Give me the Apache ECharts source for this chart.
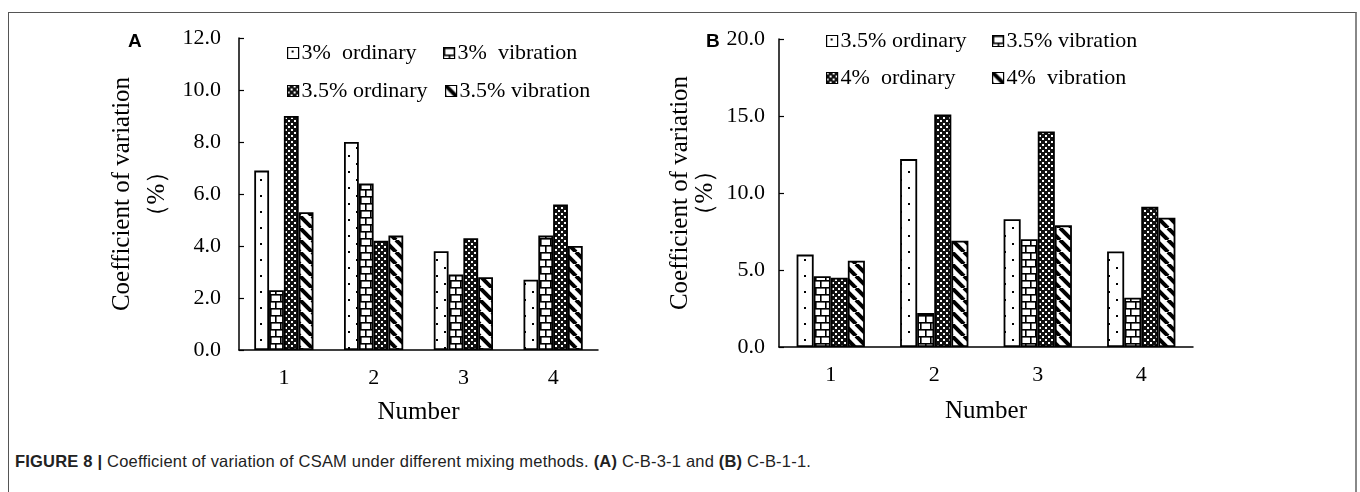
<!DOCTYPE html>
<html>
<head>
<meta charset="utf-8">
<script src="https://cdn.jsdelivr.net/npm/echarts@6/dist/echarts.min.js"></script>
<style>
  body { margin: 0; background: #fff; }
  #page { position: relative; width: 1360px; height: 492px; overflow: hidden; }
  #frame { position: absolute; left: 8px; top: 12px; width: 1346px; height: 520px;
           border-top: 1px solid #555; border-left: 1px solid #555; border-right: 2px solid #888; }
  #chart-a { position: absolute; left: 0; top: 0; width: 640px; height: 440px; }
  #chart-b { position: absolute; left: 640px; top: 0; width: 720px; height: 440px; }
  #caption { position: absolute; left: 15px; top: 452px; font-family: 'Liberation Sans', Arial, sans-serif;
             font-size: 16.5px; letter-spacing: 0.2px; color: #222; white-space: nowrap; }
</style>
</head>
<body>
<div id="page">
  <div id="frame"></div>
  <div id="chart-a"></div>
  <div id="chart-b"></div>
  <div id="caption"><b>FIGURE 8 |</b> Coefficient of variation of CSAM under different mixing methods. <b>(A)</b> C-B-3-1 and <b>(B)</b> C-B-1-1.</div>
</div>
<script>
// Data
const categories = ['1', '2', '3', '4'];

const namesA = ['3%  ordinary', '3%  vibration', '3.5% ordinary', '3.5% vibration'];
const ordinary3A = [6.9, 8.0, 3.8, 2.7];
const vibration3A = [2.3, 6.4, 2.9, 4.4];
const ordinary35A = [9.0, 4.2, 4.3, 5.6];
const vibration35A = [5.3, 4.4, 2.8, 4.0];

const namesB = ['3.5% ordinary', '3.5% vibration', '4%  ordinary', '4%  vibration'];
const ordinary35B = [6.0, 12.2, 8.3, 6.2];
const vibration35B = [4.6, 2.2, 7.0, 3.2];
const ordinary4B = [4.5, 15.1, 14.0, 9.1];
const vibration4B = [5.6, 6.9, 7.9, 8.4];

const SERIF = "'Liberation Serif', 'Times New Roman', serif";

// Fill patterns drawn on small canvases
function tile(w, h, draw) {
  const c = document.createElement('canvas');
  c.width = w; c.height = h;
  const ctx = c.getContext('2d');
  ctx.fillStyle = '#fff';
  ctx.fillRect(0, 0, w, h);
  draw(ctx);
  return { image: c, repeat: 'repeat' };
}

const dotted = () => tile(16, 16, ctx => {
  ctx.fillStyle = '#000';
  ctx.fillRect(4, 3, 2, 2);
  ctx.fillRect(12, 11, 2, 2);
});

const brick = () => tile(20, 14, ctx => {
  ctx.fillStyle = '#000';
  ctx.fillRect(0, 0, 20, 1.6);
  ctx.fillRect(0, 7, 20, 1.6);
  ctx.fillRect(0, 0, 1.6, 7);
  ctx.fillRect(10, 0, 1.6, 7);
  ctx.fillRect(5, 7, 1.6, 7);
  ctx.fillRect(15, 7, 1.6, 7);
});

const checker = () => tile(6, 6, ctx => {
  ctx.fillStyle = '#111';
  ctx.fillRect(0, 0, 6, 6);
  ctx.fillStyle = '#fff';
  ctx.fillRect(0, 0, 2, 2);
  ctx.fillRect(3, 3, 2, 2);
});

const stripes = () => tile(12, 12, ctx => {
  ctx.strokeStyle = '#000';
  ctx.lineWidth = 4;
  [-12, 0, 12].forEach(k => {
    ctx.beginPath();
    ctx.moveTo(k, 0);
    ctx.lineTo(k + 12, 12);
    ctx.stroke();
  });
});

function barSeries(name, data, fill) {
  return {
    name: name,
    type: 'bar',
    data: data,
    barGap: '0%',
    barCategoryGap: '34%',
    itemStyle: { color: fill, borderColor: '#000', borderWidth: 1.8 }
  };
}

function legendAt(name, left, top) {
  return {
    data: [name],
    left: left,
    top: top,
    padding: 0,
    icon: 'rect',
    itemWidth: 11,
    itemHeight: 11,
    itemGap: 4,
    selectedMode: false,
    itemStyle: { borderColor: '#000', borderWidth: 1.2 },
    textStyle: { fontFamily: SERIF, fontSize: 22, color: '#000', padding: [0, 0, 0, -2] }
  };
}

function buildOption(cfg) {
  return {
    animation: false,
    title: {
      text: cfg.letter,
      left: cfg.letterLeft,
      top: 32,
      padding: 0,
      textStyle: { fontFamily: "'Liberation Sans', Arial, sans-serif", fontWeight: 'bold', fontSize: 19, color: '#000' }
    },
    legend: cfg.legends,
    grid: Object.assign({ outerBoundsMode: 'none', containLabel: false }, cfg.grid),
    xAxis: {
      type: 'category',
      data: categories,
      name: 'Number',
      nameLocation: 'middle',
      nameGap: cfg.xNameGap,
      nameMoveOverlap: false,
      nameTextStyle: { fontFamily: SERIF, fontSize: 25, color: '#000' },
      axisLine: { lineStyle: { color: '#000', width: 1.5 } },
      axisTick: { inside: true, length: 6, lineStyle: { color: '#000', width: 1.2 } },
      axisLabel: { fontFamily: SERIF, fontSize: 22, color: '#000', margin: 17 }
    },
    yAxis: {
      type: 'value',
      min: 0,
      max: cfg.yMax,
      interval: cfg.yStep,
      name: 'Coefficient of variation\n（%）',
      nameLocation: 'middle',
      nameGap: cfg.yNameGap,
      nameMoveOverlap: false,
      nameTextStyle: { fontFamily: SERIF, fontSize: 25, color: '#000', lineHeight: cfg.yNameLine },
      axisLine: { show: true, lineStyle: { color: '#000', width: 1.5 } },
      axisTick: { show: true, inside: true, length: 5, lineStyle: { color: '#000', width: 1.2 } },
      axisLabel: { fontFamily: SERIF, fontSize: 22, color: '#000', margin: cfg.yLabelMargin, formatter: v => v.toFixed(1) },
      splitLine: { show: false }
    },
    series: cfg.series
  };
}

document.addEventListener('DOMContentLoaded', () => {
  const chartA = echarts.init(document.getElementById('chart-a'));
  chartA.setOption(buildOption({
    letter: 'A',
    letterLeft: 128,
    grid: { left: 239, top: 38, width: 359, height: 312 },
    yMax: 12,
    yStep: 2,
    yNameGap: 64,
    yNameLine: 35,
    yLabelMargin: 18,
    xNameGap: 50,
    legends: [
      legendAt(namesA[0], 287, 42),
      legendAt(namesA[1], 443, 42),
      legendAt(namesA[2], 287, 80),
      legendAt(namesA[3], 445, 80)
    ],
    series: [
      barSeries(namesA[0], ordinary3A, dotted()),
      barSeries(namesA[1], vibration3A, brick()),
      barSeries(namesA[2], ordinary35A, checker()),
      barSeries(namesA[3], vibration35A, stripes())
    ]
  }));

  // panel B sits in a wider box so its axis name is not clipped
  const chartB = echarts.init(document.getElementById('chart-b'));
  chartB.setOption(buildOption({
    letter: 'B',
    letterLeft: 66,
    grid: { left: 139, top: 39, width: 414, height: 308 },
    yMax: 20,
    yStep: 5,
    yNameGap: 61,
    yNameLine: 25,
    yLabelMargin: 14,
    xNameGap: 52,
    legends: [
      legendAt(namesB[0], 186, 30),
      legendAt(namesB[1], 352, 30),
      legendAt(namesB[2], 186, 67),
      legendAt(namesB[3], 352, 67)
    ],
    series: [
      barSeries(namesB[0], ordinary35B, dotted()),
      barSeries(namesB[1], vibration35B, brick()),
      barSeries(namesB[2], ordinary4B, checker()),
      barSeries(namesB[3], vibration4B, stripes())
    ]
  }));
});
</script>
</body>
</html>
